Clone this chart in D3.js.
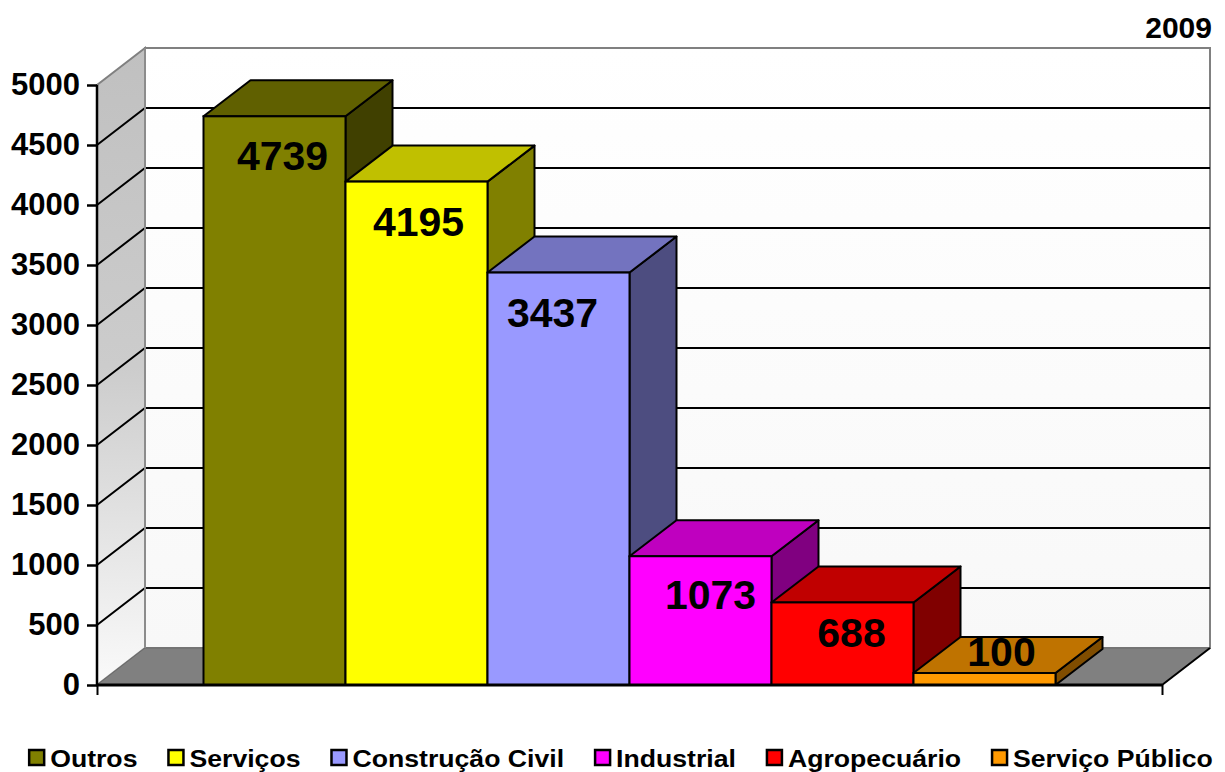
<!DOCTYPE html>
<html>
<head>
<meta charset="utf-8">
<script src="https://cdn.jsdelivr.net/npm/d3@7"></script>
<style>
  html, body { margin: 0; padding: 0; background: #fff; }
  svg { display: block; font-family: "Liberation Sans", Arial, sans-serif; }
</style>
</head>
<body>
<svg id="chart" width="1225" height="772"></svg>
<script>
// ---- data ----
const categories = ["Outros", "Serviços", "Construção Civil", "Industrial", "Agropecuário", "Serviço Público"];
const values = [4739, 4195, 3437, 1073, 688, 100];
const yTicks = [0, 500, 1000, 1500, 2000, 2500, 3000, 3500, 4000, 4500, 5000];
const yearLabel = "2009";

// ---- style ----
const frontColors = ["#808000", "#FFFF00", "#9999FF", "#FF00FF", "#FF0000", "#FF9900"];
const topColors   = ["#606000", "#C0C000", "#7373BF", "#BF00BF", "#C00000", "#BF7300"];
const sideColors  = ["#404000", "#808000", "#4D4D80", "#800080", "#800000", "#804D00"];
const labelNudgeX = [8, 2, -6, 10, 9, 17];
const labelNudgeY = [40, 40, 40, 39, 31, -21];

// ---- layout ----
const svg = d3.select("#chart");
const x0 = 97, x1 = 1162, yBase = 685, yTopAxis = 85;
const wallDx = 48, wallDy = -37;
const barDx = 47, barDy = -36;

const y = d3.scaleLinear().domain([0, 5000]).range([yBase, yTopAxis]);
const x = d3.scaleBand().domain(categories).range([x0, x1]).paddingInner(0).paddingOuter(0.75);

const defs = svg.append("defs");
const gSide = defs.append("linearGradient").attr("id", "sideWall").attr("x1", 0).attr("y1", 0).attr("x2", 0).attr("y2", 1);
gSide.append("stop").attr("offset", "0%").attr("stop-color", "#C0C0C0");
gSide.append("stop").attr("offset", "50%").attr("stop-color", "#CCCCCC");
gSide.append("stop").attr("offset", "100%").attr("stop-color", "#FAFAFA");
const gBack = defs.append("linearGradient").attr("id", "backWall").attr("x1", 0).attr("y1", 0).attr("x2", 0).attr("y2", 1);
gBack.append("stop").attr("offset", "0%").attr("stop-color", "#FFFFFF");
gBack.append("stop").attr("offset", "100%").attr("stop-color", "#F8F8F8");

const pts = a => a.map(p => p.join(",")).join(" ");

// back wall
svg.append("polygon")
  .attr("points", pts([[x0 + wallDx, y(5000) + wallDy], [x1 + wallDx, y(5000) + wallDy], [x1 + wallDx, yBase + wallDy], [x0 + wallDx, yBase + wallDy]]))
  .attr("fill", "url(#backWall)").attr("stroke", "#808080").attr("stroke-width", 2);

// side wall
svg.append("polygon")
  .attr("points", pts([[x0, y(5000)], [x0 + wallDx, y(5000) + wallDy], [x0 + wallDx, yBase + wallDy], [x0, yBase]]))
  .attr("fill", "url(#sideWall)").attr("stroke", "#808080").attr("stroke-width", 2);

// floor
svg.append("polygon")
  .attr("points", pts([[x0, yBase], [x0 + wallDx, yBase + wallDy], [x1 + wallDx, yBase + wallDy], [x1, yBase]]))
  .attr("fill", "#808080").attr("stroke", "#6a6a6a").attr("stroke-width", 1);
svg.append("line")
  .attr("x1", x1).attr("y1", yBase).attr("x2", x1 + wallDx).attr("y2", yBase + wallDy)
  .attr("stroke", "#000").attr("stroke-width", 2);

// gridlines
const grid = yTicks.filter(t => t > 0 && t < 5000);
svg.append("g").selectAll("path").data(grid).join("path")
  .attr("d", t => `M${x0},${y(t)} L${x0 + wallDx},${y(t) + wallDy} L${x1 + wallDx},${y(t) + wallDy}`)
  .attr("fill", "none").attr("stroke", "#000").attr("stroke-width", 2);
svg.append("line")
  .attr("x1", x0 + wallDx).attr("y1", y(5000) + wallDy).attr("x2", x0 + wallDx).attr("y2", yBase + wallDy)
  .attr("stroke", "#8c8c8c").attr("stroke-width", 2);

// bars
const bars = svg.append("g").selectAll("g").data(values.map((v, i) => ({ v, i, c: categories[i] }))).join("g");
bars.each(function (d) {
  const g = d3.select(this);
  const l = x(d.c), r = x(d.c) + x.bandwidth(), t = y(d.v);
  g.append("polygon")
    .attr("points", pts([[r, t], [r + barDx, t + barDy], [r + barDx, yBase + barDy], [r, yBase]]))
    .attr("fill", sideColors[d.i]).attr("stroke", "#000").attr("stroke-width", 2).attr("stroke-linejoin", "round");
  g.append("polygon")
    .attr("points", pts([[l, t], [l + barDx, t + barDy], [r + barDx, t + barDy], [r, t]]))
    .attr("fill", topColors[d.i]).attr("stroke", "#000").attr("stroke-width", 2).attr("stroke-linejoin", "round");
  g.append("rect")
    .attr("x", l).attr("y", t).attr("width", r - l).attr("height", yBase - t)
    .attr("fill", frontColors[d.i]).attr("stroke", "#000").attr("stroke-width", 2);
});

// value labels
svg.append("g").selectAll("text").data(values).join("text")
  .attr("x", (v, i) => x(categories[i]) + x.bandwidth() / 2 + labelNudgeX[i])
  .attr("y", (v, i) => y(v) + labelNudgeY[i])
  .attr("text-anchor", "middle").attr("dominant-baseline", "central")
  .attr("font-size", 41).attr("font-weight", "bold").attr("fill", "#000")
  .text(v => v);

// axes
const yAxis = d3.axisLeft(y).tickValues(yTicks).tickSize(10).tickPadding(7).tickFormat(d3.format("d"));
const ya = svg.append("g").attr("transform", `translate(${x0},0)`).call(yAxis);
ya.select(".domain").attr("stroke", "#000").attr("stroke-width", 2.5).attr("d", `M0,${y(5000)}V${yBase}`);
ya.selectAll(".tick line").attr("stroke", "#000").attr("stroke-width", 2.5);
ya.selectAll(".tick text").attr("font-size", 31).attr("font-weight", "bold").attr("fill", "#000")
  .attr("font-family", "Liberation Sans, Arial, sans-serif");

const xAxis = d3.axisBottom(d3.scaleLinear().domain([0, 1]).range([x0, x1])).tickValues([0, 1]).tickSize(10).tickFormat("");
const xa = svg.append("g").attr("transform", `translate(0,${yBase})`).call(xAxis);
xa.select(".domain").attr("stroke", "#000").attr("stroke-width", 3).attr("d", `M${x0},0H${x1}`);
xa.selectAll(".tick line").attr("stroke", "#000").attr("stroke-width", 2);

// year label
svg.append("text").attr("x", 1212).attr("y", 38).attr("text-anchor", "end")
  .attr("font-size", 30).attr("font-weight", "bold").text(yearLabel);

// legend
const legScale = 1.11;
const leg = svg.append("g");
const items = leg.selectAll("g").data(categories).join("g");
items.append("rect").attr("x", 0).attr("y", -17).attr("width", 15).attr("height", 15)
  .attr("fill", (d, i) => frontColors[i]).attr("stroke", "#000").attr("stroke-width", 2.5);
items.append("text").attr("x", 0).attr("y", 0)
  .attr("transform", `translate(21,0) scale(${legScale},1)`)
  .attr("font-size", 24).attr("font-weight", "bold").text(d => d);
let cx = 0;
const gap = 31;
items.each(function () {
  const tw = d3.select(this).select("text").node().getBBox().width * legScale + 21;
  d3.select(this).attr("transform", `translate(${cx},0)`);
  cx += tw + gap;
});
const totalW = cx - gap;
leg.attr("transform", `translate(${621 - totalW / 2},767)`);
</script>
</body>
</html>
